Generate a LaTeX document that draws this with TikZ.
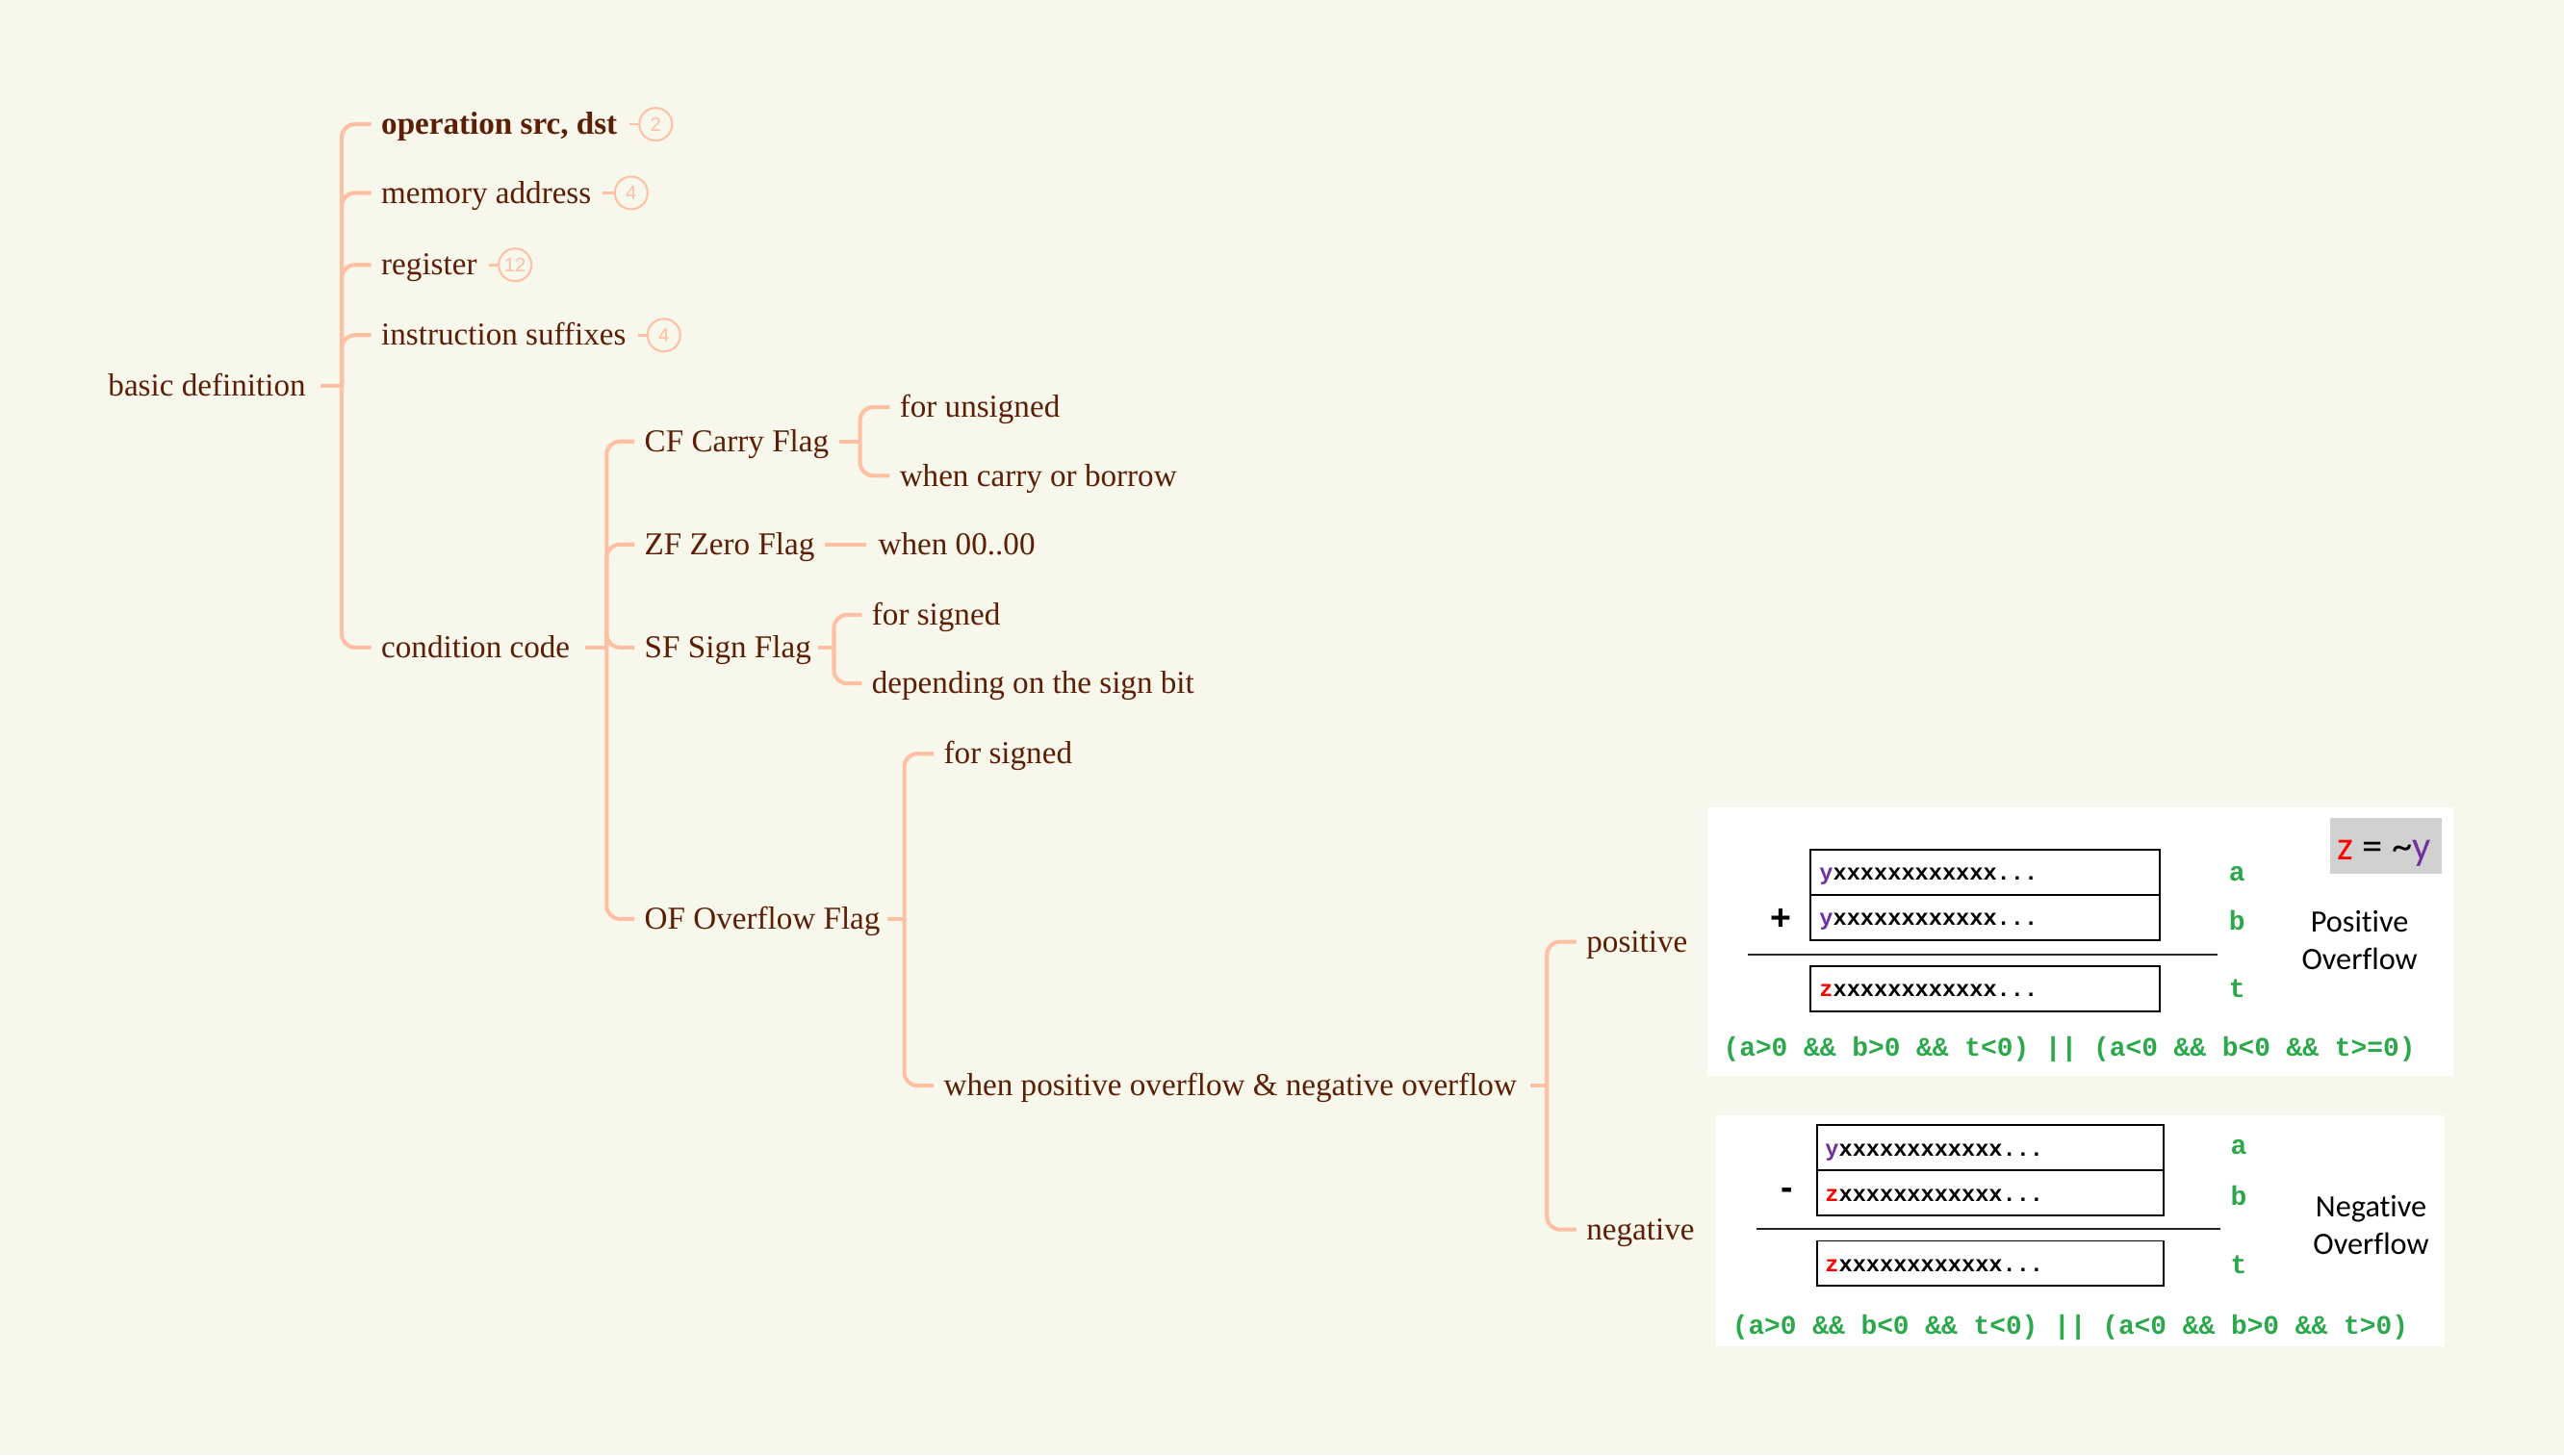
\documentclass[tikz,border=0pt]{standalone}
\usepackage{fontspec}
\setmainfont{Liberation Serif}
\newfontfamily\monofont{Liberation Mono}
\newfontfamily\calfont[Ligatures=NoCommon]{Carlito}
\newfontfamily\badgefont{Liberation Sans}
\definecolor{bgc}{HTML}{F8F7EC}
\definecolor{peach}{HTML}{FFBFA3}
\definecolor{brownt}{HTML}{5C1E05}
\definecolor{okgreen}{HTML}{2AA84A}
\definecolor{ypurple}{HTML}{7030A0}
\definecolor{zred}{HTML}{FF0000}
\begin{document}
\begin{tikzpicture}[x=1pt,y=-1pt,
  conn/.style={draw=peach, line width=2.4pt, rounded corners=8pt},
  topic/.style={anchor=west, inner sep=0pt, text=brownt, font=\fontsize{19.5}{22}\selectfont, text height=15pt, text depth=2.4pt},
  badge/.style={circle, draw=peach, line width=1.2pt, minimum size=20pt, inner sep=0pt, text=peach, font=\badgefont\fontsize{12}{12}\selectfont},
  bitbox/.style={draw=black, line width=1.1pt, minimum height=27.6pt, inner sep=0pt},
  bits/.style={anchor=base west, inner sep=0pt, font=\monofont\bfseries\fontsize{13.9}{14}\selectfont},
  lbl/.style={anchor=base, inner sep=0pt, text=okgreen, font=\monofont\bfseries\fontsize{16.5}{17}\selectfont},
  formula/.style={anchor=base, inner sep=0pt, text=okgreen, font=\monofont\bfseries\fontsize{16.4}{17}\selectfont},
  ovf/.style={anchor=base, inner sep=0pt, font=\calfont\fontsize{19}{22}\selectfont},
  sign/.style={inner sep=0pt, font=\badgefont\bfseries\fontsize{22}{22}\selectfont}]
\fill[bgc] (0,0) rectangle (1568,890);
\useasboundingbox (0,0) rectangle (1568,890);

% ---------- mind map nodes ----------
\node[topic] (root) at (66,236) {basic definition};
\node[topic, font=\bfseries\fontsize{19.5}{22}\selectfont] (op) at (233,76) {operation src, dst};
\node[topic] (mem) at (233,118) {memory address};
\node[topic] (reg) at (233,162) {register};
\node[topic] (ins) at (233,205) {instruction suffixes};
\node[topic] (cc) at (233,396) {condition code};

\node[badge] (b1) at (401,76) {2};
\node[badge] (b2) at (386,118) {4};
\node[badge] (b3) at (315,162) {12};
\node[badge] (b4) at (406,205) {4};

\node[topic] (cf) at (394,270) {CF Carry Flag};
\node[topic] (zf) at (394,333) {ZF Zero Flag};
\node[topic] (sf) at (394,396) {SF Sign Flag};
\node[topic] (of) at (394,562) {OF Overflow Flag};

\node[topic] (unsig) at (550,249) {for unsigned};
\node[topic] (carry) at (550,291) {when carry or borrow};
\node[topic] (zero) at (537,333) {when 00..00};
\node[topic] (sgn1) at (533,376) {for signed};
\node[topic] (sbit) at (533,418) {depending on the sign bit};
\node[topic] (sgn2) at (577,461) {for signed};
\node[topic] (pn) at (577,664) {when positive overflow \& negative overflow};
\node[topic] (pos) at (970,576) {positive};
\node[topic] (neg) at (970,752) {negative};

% ---------- connectors ----------
\coordinate (s0) at (209,236);
\coordinate (s1) at (371,396);
\coordinate (s2) at (526,270);
\coordinate (s3) at (510,396);
\coordinate (s4) at (553,562);
\coordinate (s5) at (946,664);

\draw[conn] ([xshift=9pt]root.east) -- (s0);
\foreach \c in {op,mem,reg,ins,cc} \draw[conn] (s0) |- ([xshift=-6pt]\c.west);
\draw[conn, line width=1.5pt] ([xshift=7pt]op.east) -- (b1.west);
\draw[conn, line width=1.5pt] ([xshift=7pt]mem.east) -- (b2.west);
\draw[conn, line width=1.5pt] ([xshift=7pt]reg.east) -- (b3.west);
\draw[conn, line width=1.5pt] ([xshift=7pt]ins.east) -- (b4.west);

\draw[conn] ([xshift=9pt]cc.east) -- (s1);
\foreach \c in {cf,zf,sf,of} \draw[conn] (s1) |- ([xshift=-6pt]\c.west);

\draw[conn] ([xshift=6pt]cf.east) -- (s2);
\foreach \c in {unsig,carry} \draw[conn] (s2) |- ([xshift=-6pt]\c.west);

\draw[conn] ([xshift=6pt]zf.east) -- ([xshift=-7pt]zero.west);

\draw[conn] ([xshift=4pt]sf.east) -- (s3);
\foreach \c in {sgn1,sbit} \draw[conn] (s3) |- ([xshift=-6pt]\c.west);

\draw[conn] ([xshift=4pt]of.east) -- (s4);
\foreach \c in {sgn2,pn} \draw[conn] (s4) |- ([xshift=-6pt]\c.west);

\draw[conn] ([xshift=8pt]pn.east) -- (s5);
\foreach \c in {pos,neg} \draw[conn] (s5) |- ([xshift=-6pt]\c.west);

% ---------- positive overflow panel ----------
\fill[white] (1044,494) rectangle (1500,658);
\node[bitbox, minimum width=214pt] (pa) at (1214,533.4) {};
\node[bitbox, minimum width=214pt] (pb) at (1214,561.1) {};
\node[bitbox, minimum width=214pt] (pt) at (1214,604.6) {};
\node[bits] (pat) at (1112.5,538.5) {\textcolor{ypurple}{y}xxxxxxxxxxxx...};
\node[bits] (pbt) at (1112.5,566.2) {\textcolor{ypurple}{y}xxxxxxxxxxxx...};
\node[bits] (ptt) at (1112.5,609.7) {\textcolor{zred}{z}xxxxxxxxxxxx...};
\node[sign] (plus) at (1089,562.5) {+};
\coordinate (pl1) at (1069,584);
\coordinate (pl2) at (1356,584);
\draw[line width=1.3pt, black!85] (pl1) -- (pl2);
\node[lbl] (la1) at (1368,539) {a};
\node[lbl] (lb1) at (1368,569) {b};
\node[lbl] (lt1) at (1368,610) {t};
\node[ovf] (po1) at (1443,570) {Positive};
\node[ovf] (po2) at (1443,593) {Overflow};
\node[fill=black!18, minimum width=68pt, minimum height=34.5pt, inner sep=0pt] (zbox) at (1459,517.3) {};
\node[anchor=base, inner sep=0pt, font=\calfont\fontsize{25}{25}\selectfont] (zeq) at (1458,526) {\textcolor{zred}{z} = \textasciitilde\textcolor{ypurple}{y}};
\node[formula] (pf) at (1265.5,646) {(a>0 \&\& b>0 \&\& t<0) || (a<0 \&\& b<0 \&\& t>=0)};

% ---------- negative overflow panel ----------
\fill[white] (1049.5,682) rectangle (1495,823.5);
\node[bitbox, minimum width=212pt] (na) at (1217,701.8) {};
\node[bitbox, minimum width=212pt] (nb) at (1217,729.5) {};
\node[bitbox, minimum width=212pt] (nt) at (1217,772.8) {};
\node[bits] (nat) at (1116,707) {\textcolor{ypurple}{y}xxxxxxxxxxxx...};
\node[bits] (nbt) at (1116,734.6) {\textcolor{zred}{z}xxxxxxxxxxxx...};
\node[bits] (ntt) at (1116,778) {\textcolor{zred}{z}xxxxxxxxxxxx...};
\node[sign] (minus) at (1093,730) {-};
\coordinate (nl1) at (1074,751.5);
\coordinate (nl2) at (1358,751.5);
\draw[line width=1.3pt, black!85] (nl1) -- (nl2);
\node[lbl] (la2) at (1369,706) {a};
\node[lbl] (lb2) at (1369,737) {b};
\node[lbl] (lt2) at (1369,779) {t};
\node[ovf] (no1) at (1450,744) {Negative};
\node[ovf] (no2) at (1450,767) {Overflow};
\node[formula] (nf) at (1266,816) {(a>0 \&\& b<0 \&\& t<0) || (a<0 \&\& b>0 \&\& t>0)};
\end{tikzpicture}
\end{document}
